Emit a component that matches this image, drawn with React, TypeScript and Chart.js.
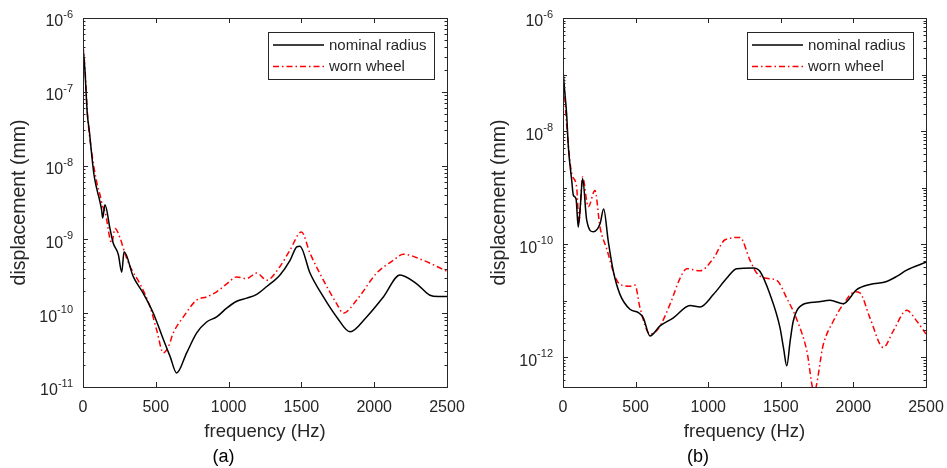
import React, { useEffect, useRef } from "react";
import { Chart, registerables } from "chart.js";

Chart.register(...registerables);

// ---------- data: panel (a) ----------
const freqA_nominal = [0, 14, 21, 30, 44, 60, 76, 94, 117, 128, 135, 151, 185, 206, 243, 266, 282, 346, 414, 483, 552, 598, 643, 712, 781, 849, 918, 987, 1056, 1124, 1193, 1262, 1353, 1422, 1468, 1490, 1559, 1651, 1742, 1834, 1948, 2063, 2177, 2292, 2383, 2440, 2500];
const dispA_nominal = [4.1e-7, 1.86e-7, 1.0e-7, 4.9e-8, 2.9e-8, 1.38e-8, 7.4e-9, 4.9e-9, 3.2e-9, 2.5e-9, 1.95e-9, 2.95e-9, 1.41e-9, 9.1e-10, 6.2e-10, 3.6e-10, 6.8e-10, 3.1e-10, 1.86e-10, 1.0e-10, 4.4e-11, 2.6e-11, 1.55e-11, 2.9e-11, 5.4e-11, 7.6e-11, 8.9e-11, 1.17e-10, 1.45e-10, 1.6e-10, 1.8e-10, 2.3e-10, 3.3e-10, 5.2e-10, 7.9e-10, 8.1e-10, 3.5e-10, 1.66e-10, 8.9e-11, 5.6e-11, 8.9e-11, 1.66e-10, 3.3e-10, 2.5e-10, 1.75e-10, 1.68e-10, 1.68e-10];
const freqA_worn = [0, 14, 30, 60, 94, 117, 135, 151, 197, 220, 254, 290, 323, 391, 460, 506, 552, 586, 620, 689, 781, 849, 918, 987, 1056, 1124, 1193, 1262, 1353, 1422, 1500, 1559, 1651, 1742, 1788, 1880, 2017, 2131, 2200, 2337, 2500];
const dispA_worn = [4.3e-7, 2.0e-7, 5.2e-8, 1.5e-8, 6.0e-9, 4.0e-9, 2.8e-9, 2.4e-9, 8.9e-10, 1.41e-9, 1.05e-9, 6.3e-10, 4.3e-10, 2.5e-10, 1.23e-10, 5.9e-11, 2.9e-11, 3.5e-11, 5.4e-11, 8.9e-11, 1.51e-10, 1.66e-10, 1.95e-10, 2.5e-10, 3.1e-10, 2.95e-10, 3.5e-10, 2.8e-10, 4.3e-10, 7.2e-10, 1.26e-9, 6.5e-10, 2.8e-10, 1.35e-10, 1.0e-10, 1.51e-10, 3.5e-10, 5.2e-10, 6.3e-10, 5.2e-10, 3.7e-10];

// ---------- data: panel (b) ----------
const freqB_nominal = [0, 12, 25, 37, 60, 71, 90, 105, 120, 135, 163, 209, 255, 280, 312, 347, 393, 461, 519, 553, 599, 668, 760, 875, 944, 1035, 1127, 1196, 1311, 1357, 1426, 1494, 1520, 1541, 1565, 1586, 1655, 1747, 1839, 1930, 2023, 2114, 2229, 2298, 2367, 2500];
const dispB_nominal = [1.15e-7, 5e-8, 2.0e-8, 5.2e-9, 1.35e-9, 7.4e-10, 6.3e-10, 2.0e-10, 5e-10, 1.45e-9, 2.7e-10, 1.66e-10, 2.3e-10, 4.2e-10, 1.12e-10, 3.3e-11, 1.29e-11, 7.1e-12, 6.2e-12, 5.0e-12, 2.4e-12, 3.6e-12, 5.0e-12, 8.3e-12, 7.8e-12, 1.29e-11, 2.5e-11, 3.7e-11, 3.8e-11, 3.3e-11, 1.29e-11, 3.4e-12, 1.4e-12, 7.1e-13, 2.0e-12, 4.4e-12, 8.7e-12, 9.5e-12, 1.02e-11, 8.9e-12, 1.58e-11, 1.95e-11, 2.2e-11, 2.7e-11, 3.5e-11, 4.8e-11];
const freqB_worn = [0, 25, 60, 94, 110, 135, 174, 220, 255, 301, 358, 393, 461, 496, 530, 599, 656, 737, 806, 852, 944, 1035, 1116, 1219, 1288, 1334, 1403, 1472, 1541, 1610, 1679, 1729, 1793, 1862, 1930, 2011, 2045, 2114, 2206, 2275, 2367, 2436, 2500];
const dispB_worn = [1.23e-7, 1.32e-8, 1.78e-9, 1.02e-9, 2.5e-10, 1.55e-9, 4.6e-10, 8.9e-10, 2.0e-10, 8.3e-11, 2.7e-11, 1.95e-11, 1.82e-11, 1.9e-11, 7.6e-12, 2.6e-12, 3.2e-12, 8.7e-12, 2.5e-11, 3.7e-11, 3.4e-11, 5.6e-11, 1.2e-10, 1.32e-10, 5.2e-11, 3.1e-11, 2.5e-11, 2.3e-11, 1.12e-11, 4.7e-12, 1.32e-12, 2.5e-13, 1.7e-12, 4.4e-12, 8.7e-12, 1.45e-11, 1.38e-11, 5.0e-12, 1.5e-12, 2.95e-12, 6.8e-12, 4.4e-12, 2.6e-12];

// ---------- axes / labels ----------
const xTicks = [0, 500, 1000, 1500, 2000, 2500];
const yLabelExpsA = [-6, -7, -8, -9, -10, -11];
const yLabelExpsB = [-6, -8, -10, -12];
const seriesNames = ["nominal radius", "worn wheel"];
const xTitle = "frequency (Hz)";
const yTitle = "displacement (mm)";

const FONT = "'Liberation Sans', Arial, Helvetica, sans-serif";
const AXIS_COLOR = "#262626";

const matlabAxes = {
  id: "matlabAxes",
  afterDatasetsDraw(chart: any, _args: any, opts: any) {
    const { ctx, chartArea } = chart;
    const { left, right, top, bottom } = chartArea;
    const xs = chart.scales.x;
    const ys = chart.scales.y;
    ctx.save();
    ctx.strokeStyle = AXIS_COLOR;
    ctx.lineWidth = 1;
    ctx.setLineDash([]);
    const line = (x1: number, y1: number, x2: number, y2: number) => {
      ctx.beginPath();
      ctx.moveTo(x1, y1);
      ctx.lineTo(x2, y2);
      ctx.stroke();
    };
    // box
    ctx.strokeRect(Math.round(left) + 0.5, Math.round(top) + 0.5, Math.round(right - left), Math.round(bottom - top));
    // x ticks
    for (const v of opts.xTicks) {
      const px = Math.round(xs.getPixelForValue(v)) + 0.5;
      line(px, bottom, px, bottom - 5);
      line(px, top, px, top + 5);
    }
    // y ticks (log major/minor)
    const minE = Math.floor(Math.log10(ys.min));
    const maxE = Math.ceil(Math.log10(ys.max));
    for (let e = minE; e <= maxE; e++) {
      for (let k = 1; k <= 9; k++) {
        const v = k * Math.pow(10, e);
        if (v < ys.min * 0.999 || v > ys.max * 1.001) continue;
        const major = k === 1 && opts.yLabelExps.includes(e);
        const len = major ? 5 : k === 1 ? 4 : 2.5;
        const py = Math.round(ys.getPixelForValue(v)) + 0.5;
        line(left, py, left + len, py);
        line(right, py, right - len, py);
      }
    }
    // y tick labels: 10^e
    ctx.fillStyle = AXIS_COLOR;
    ctx.textBaseline = "middle";
    for (const e of opts.yLabelExps) {
      const py = ys.getPixelForValue(Math.pow(10, e));
      const expText = String(e);
      ctx.font = `11px ${FONT}`;
      const ew = ctx.measureText(expText).width;
      ctx.font = `16px ${FONT}`;
      const bw = ctx.measureText("10").width;
      const xr = left - opts.labelGap;
      ctx.textAlign = "left";
      ctx.font = `16px ${FONT}`;
      ctx.fillText("10", xr - ew - bw, py + 4);
      ctx.font = `11px ${FONT}`;
      ctx.fillText(expText, xr - ew, py - 3);
    }
    // legend
    const lw = 166;
    const lh = 47;
    const lx = right - 13 - lw;
    const ly = top + 14;
    ctx.fillStyle = "#ffffff";
    ctx.fillRect(lx, ly, lw, lh);
    ctx.strokeStyle = AXIS_COLOR;
    ctx.lineWidth = 1;
    ctx.strokeRect(Math.round(lx) + 0.5, Math.round(ly) + 0.5, lw, lh);
    chart.data.datasets.forEach((ds: any, i: number) => {
      const yy = ly + 13 + i * 21.5;
      ctx.strokeStyle = ds.borderColor;
      ctx.lineWidth = ds.borderWidth;
      ctx.setLineDash(ds.borderDash || []);
      line(lx + 5, yy, lx + 56, yy);
      ctx.setLineDash([]);
      ctx.fillStyle = AXIS_COLOR;
      ctx.font = `15px ${FONT}`;
      ctx.textAlign = "left";
      ctx.textBaseline = "middle";
      ctx.fillText(ds.label, lx + 61, yy + 0.5);
    });
    ctx.restore();
  },
};

function toPoints(xs: number[], ys: number[]) {
  return xs.map((x, i) => ({ x, y: ys[i] }));
}

type PanelProps = {
  width: number;
  left: number;
  yAxisWidth: number;
  yTitlePad: number;
  rightPad: number;
  yMin: number;
  yLabelExps: number[];
  labelGap: number;
  caption: string;
  fNom: number[];
  dNom: number[];
  fWorn: number[];
  dWorn: number[];
};

function Panel(p: PanelProps) {
  const ref = useRef<HTMLCanvasElement>(null);
  useEffect(() => {
    if (!ref.current) return;
    const chart = new Chart(ref.current, {
      type: "line",
      data: {
        datasets: [
          {
            label: seriesNames[0],
            data: toPoints(p.fNom, p.dNom),
            borderColor: "#000000",
            borderWidth: 1.5,
            pointRadius: 0,
            cubicInterpolationMode: "monotone",
            fill: false,
          },
          {
            label: seriesNames[1],
            data: toPoints(p.fWorn, p.dWorn),
            borderColor: "#ff0000",
            borderWidth: 1.5,
            borderDash: [6, 3, 1.5, 3],
            pointRadius: 0,
            cubicInterpolationMode: "monotone",
            fill: false,
          },
        ],
      } as any,
      options: {
        animation: false,
        responsive: false,
        devicePixelRatio: 1,
        events: [],
        layout: { padding: { left: 0, top: 18, right: p.rightPad, bottom: 0 } },
        scales: {
          x: {
            type: "linear",
            min: 0,
            max: 2500,
            afterFit: (s: any) => {
              s.height = 59.4;
              s.paddingLeft = 0;
              s.paddingRight = 0;
            },
            afterBuildTicks: (s: any) => {
              s.ticks = xTicks.map((v) => ({ value: v }));
            },
            grid: { display: false, drawTicks: false },
            border: { display: false },
            ticks: {
              padding: 11,
              color: AXIS_COLOR,
              font: { family: FONT, size: 16 },
              maxRotation: 0,
              autoSkip: false,
              callback: (v: any) => String(v),
            },
            title: {
              display: true,
              text: xTitle,
              color: AXIS_COLOR,
              font: { family: FONT, size: 18.5 },
              padding: { top: 0, bottom: 3.6 },
            },
          },
          y: {
            type: "logarithmic",
            min: p.yMin,
            max: 1e-6,
            afterFit: (s: any) => {
              s.width = p.yAxisWidth;
              s.paddingTop = 0;
              s.paddingBottom = 0;
            },
            grid: { display: false, drawTicks: false },
            border: { display: false },
            ticks: { display: false },
            title: {
              display: true,
              text: yTitle,
              color: AXIS_COLOR,
              font: { family: FONT, size: 19.5 },
              padding: { top: p.yTitlePad, bottom: 0 },
            },
          },
        },
        plugins: {
          legend: { display: false },
          tooltip: { enabled: false },
          title: {
            display: true,
            position: "bottom",
            text: p.caption,
            color: "#000000",
            font: { family: FONT, size: 18, weight: "normal" },
            padding: 0,
          },
          matlabAxes: { xTicks, yLabelExps: p.yLabelExps, labelGap: p.labelGap },
        } as any,
      } as any,
      plugins: [matlabAxes],
    });
    return () => chart.destroy();
  }, []);
  return (
    <canvas
      ref={ref}
      width={p.width}
      height={468}
      style={{ position: "absolute", left: p.left, top: 0, width: p.width, height: 468 }}
    />
  );
}

export default function App() {
  return (
    <div style={{ position: "absolute", left: 0, top: 0, width: 947, height: 468, background: "#ffffff", overflow: "hidden" }}>
      <Panel
        width={470}
        left={0}
        yAxisWidth={83}
        yTitlePad={8.3}
        rightPad={23}
        yMin={1e-11}
        yLabelExps={yLabelExpsA}
        labelGap={10}
        caption="(a)"
        fNom={freqA_nominal}
        dNom={dispA_nominal}
        fWorn={freqA_worn}
        dWorn={dispA_worn}
      />
      <Panel
        width={477}
        left={470}
        yAxisWidth={93}
        yTitlePad={18.3}
        rightPad={21}
        yMin={3.4e-13}
        yLabelExps={yLabelExpsB}
        labelGap={10}
        caption="(b)"
        fNom={freqB_nominal}
        dNom={dispB_nominal}
        fWorn={freqB_worn}
        dWorn={dispB_worn}
      />
    </div>
  );
}
